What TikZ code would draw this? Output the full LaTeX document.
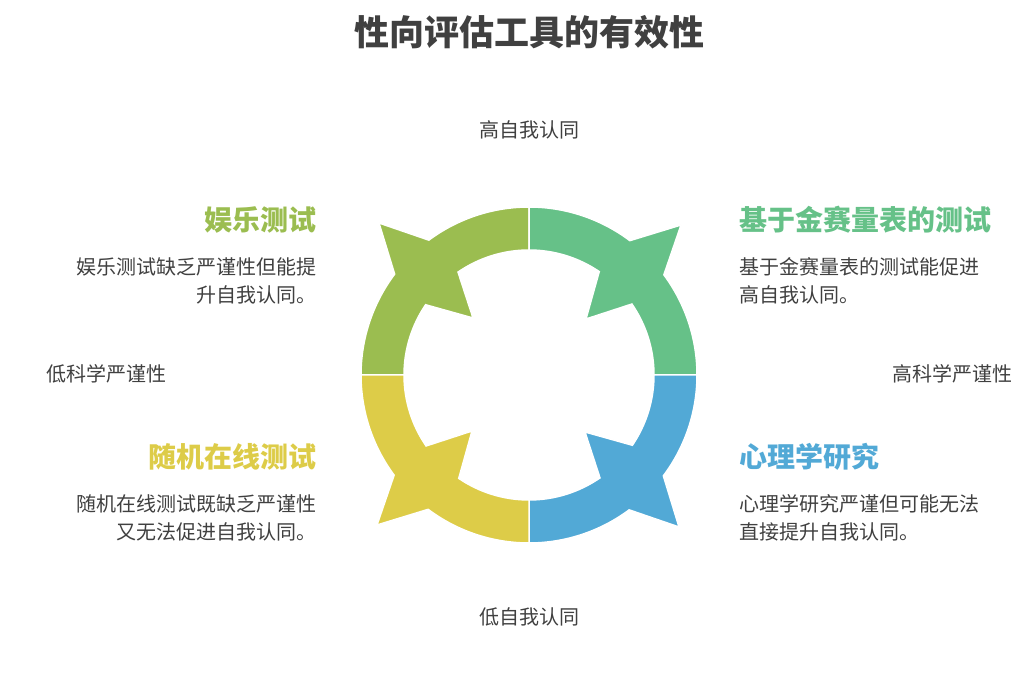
\documentclass[tikz,border=0pt]{standalone}
\usepackage{fontspec}
\setmainfont{Noto Sans CJK SC}
\begin{document}
\begin{tikzpicture}[x=1pt,y=1pt,
  lbl/.style={text=black!75,font=\fontsize{20}{28}\selectfont},
  head/.style={font=\fontsize{28}{34}\selectfont\bfseries},
  quad/.style={draw=white,line width=1.5pt}]
\useasboundingbox (0,0) rectangle (1036,674);
\definecolor{cA}{HTML}{9BBD50}\definecolor{cB}{HTML}{66C188}
\definecolor{cC}{HTML}{52A9D6}\definecolor{cD}{HTML}{DDCC48}
\coordinate (c) at (529,299);
\def\quadshape{(90:168) arc[start angle=90,end angle=126.6,radius=168] -- (-150,152) -- (143.1:168) arc[start angle=143.1,end angle=180,radius=168] -- (180:125) arc[start angle=180,end angle=145.8,radius=125] -- (-56,57) -- (124.6:125) arc[start angle=124.6,end angle=90,radius=125] -- cycle}
\begin{scope}[shift={(c)}]
\fill[cA,quad,rotate=0] \quadshape;
\fill[cB,quad,rotate=-90] \quadshape;
\fill[cC,quad,rotate=180] \quadshape;
\fill[cD,quad,rotate=90] \quadshape;
\end{scope}
\node[text=black!75,font=\fontsize{35}{40}\selectfont\bfseries] (t) at (529,642) {性向评估工具的有效性};
\node[lbl] (hi) at (529,544) {高自我认同};
\node[lbl] (lo) at (529,57) {低自我认同};
\node[lbl] (ls) at (106,300) {低科学严谨性};
\node[lbl] (hs) at (952,300) {高科学严谨性};
\node[head,text=cA,anchor=east] (h1) at (320,454) {娱乐测试};
\node[lbl,anchor=north east,align=right] (b1) at (320,420) {娱乐测试缺乏严谨性但能提\\升自我认同。};
\node[head,text=cB,anchor=west] (h2) at (736,454) {基于金赛量表的测试};
\node[lbl,anchor=north west,align=left] (b2) at (736,420) {基于金赛量表的测试能促进\\高自我认同。};
\node[head,text=cD,anchor=east] (h3) at (320,217) {随机在线测试};
\node[lbl,anchor=north east,align=right] (b3) at (320,183) {随机在线测试既缺乏严谨性\\又无法促进自我认同。};
\node[head,text=cC,anchor=west] (h4) at (736,217) {心理学研究};
\node[lbl,anchor=north west,align=left] (b4) at (736,183) {心理学研究严谨但可能无法\\直接提升自我认同。};
\end{tikzpicture}
\end{document}
